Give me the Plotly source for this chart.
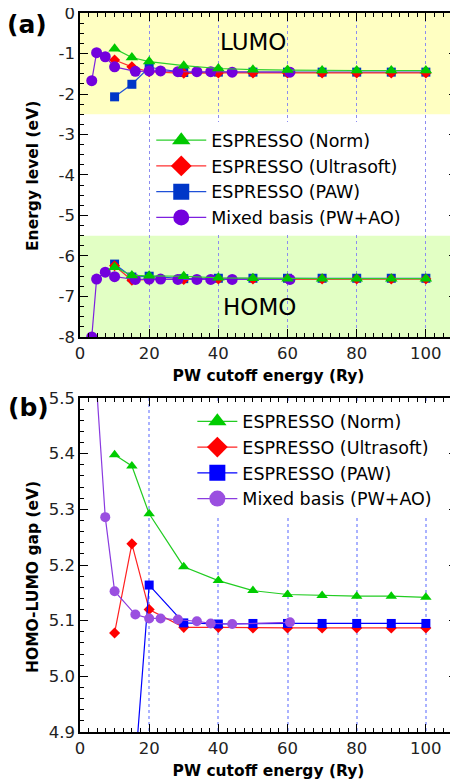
import plotly.graph_objects as go

# ---------------- data ----------------
x_esp = [10, 15, 20, 30, 40, 50, 60, 70, 80, 90, 100]
x_mix = [3.4, 4.8, 7.3, 10, 16, 20, 23.3, 28.3, 33.8, 37.8, 44, 60.7]

lumo_norm = [-0.88, -1.10, -1.20, -1.30, -1.37, -1.40, -1.41, -1.42, -1.42, -1.42, -1.42]
lumo_us = [-1.16, -1.33, -1.45, -1.49, -1.48, -1.48, -1.48, -1.48, -1.48, -1.48, -1.48]
lumo_paw = [-2.07, -1.76, -1.34, -1.47, -1.46, -1.46, -1.46, -1.46, -1.46, -1.46, -1.46]
lumo_mix = [-1.67, -0.98, -1.08, -1.33, -1.44, -1.43, -1.43, -1.45, -1.45, -1.45, -1.46, -1.46]

homo_norm = [-6.28, -6.48, -6.49, -6.50, -6.54, -6.55, -6.56, -6.56, -6.56, -6.56, -6.56]
homo_us = [-6.24, -6.60, -6.58, -6.58, -6.57, -6.57, -6.57, -6.57, -6.57, -6.57, -6.57]
homo_paw = [-6.20, -6.52, -6.50, -6.56, -6.55, -6.55, -6.55, -6.55, -6.55, -6.55, -6.55]
homo_mix = [-8.00, -6.57, -6.40, -6.51, -6.58, -6.57, -6.57, -6.58, -6.58, -6.58, -6.58, -6.58]

gap_norm = [5.398, 5.378, 5.292, 5.197, 5.172, 5.154, 5.147, 5.145, 5.144, 5.144, 5.142]
gap_us = [5.078, 5.238, 5.120, 5.088, 5.088, 5.087, 5.087, 5.087, 5.087, 5.087, 5.087]
gap_paw = [4.13, 4.76, 5.164, 5.096, 5.094, 5.095, 5.095, 5.095, 5.095, 5.095, 5.095]
gap_mix = [6.33, 5.52, 5.286, 5.153, 5.111, 5.104, 5.104, 5.102, 5.099, 5.095, 5.094, 5.097]

names = ["ESPRESSO (Norm)", "ESPRESSO (Ultrasoft)", "ESPRESSO (PAW)", "Mixed basis (PW+AO)"]

x_ticks = [0, 20, 40, 60, 80, 100]
ya_ticks = [0, -1, -2, -3, -4, -5, -6, -7, -8]
yb_ticks = [4.9, 5.0, 5.1, 5.2, 5.3, 5.4, 5.5]

FONT = "DejaVu Sans"

# styles: (symbol, size, marker color, line color)
sty_a = {
    "norm": ("triangle-up", 11, "#00c800", "#2ccf2c"),
    "us": ("diamond", 8.5, "#ff0000", "#ff3030"),
    "paw": ("square", 9, "#0036c8", "#1f50d8"),
    "mix": ("circle", 11, "#7300dd", "#7d20e0"),
}
sty_b = {
    "norm": ("triangle-up", 10, "#00cc00", "#22cc22"),
    "us": ("diamond", 8.5, "#ff0000", "#ff2020"),
    "paw": ("square", 9, "#0000ff", "#0000ff"),
    "mix": ("circle", 10, "#9a4fe0", "#8a3be0"),
}

fig = go.Figure()


def add(x, y, key, sty, xa, ya):
    sym, size, mc, lc = sty[key]
    fig.add_trace(go.Scatter(
        x=x, y=y, mode="lines+markers", showlegend=False,
        marker=dict(symbol=sym, size=size, color=mc, line=dict(width=0)),
        line=dict(color=lc, width=1.2), xaxis=xa, yaxis=ya, cliponaxis=True,
    ))


# panel (a): draw order blue, red, purple, green
for lum, hom, key, xs in [
    (lumo_paw, homo_paw, "paw", x_esp),
    (lumo_us, homo_us, "us", x_esp),
    (lumo_mix, homo_mix, "mix", x_mix),
    (lumo_norm, homo_norm, "norm", x_esp),
]:
    add(xs, lum, key, sty_a, "x", "y")
    add(xs, hom, key, sty_a, "x", "y")

# panel (b)
for g, key, xs in [
    (gap_us, "us", x_esp),
    (gap_paw, "paw", x_esp),
    (gap_mix, "mix", x_mix),
    (gap_norm, "norm", x_esp),
]:
    add(xs, g, key, sty_b, "x2", "y2")

# legend entries
keys = ["norm", "us", "paw", "mix"]
for lg, sty, xa, ya in [("legend", sty_a, "x", "y"), ("legend2", sty_b, "x2", "y2")]:
    for i, k in enumerate(keys):
        sym, size, mc, lc = sty[k]
        fig.add_trace(go.Scatter(
            x=[None], y=[None], mode="lines+markers", name=names[i],
            legend=lg, legendrank=i + 1,
            marker=dict(symbol=sym, size=16, color=mc, line=dict(width=0)),
            line=dict(color=lc, width=1.2), xaxis=xa, yaxis=ya,
        ))

axis_common = dict(
    showline=True, linecolor="black", linewidth=1.5, mirror="allticks",
    ticks="inside", tickcolor="black", tickwidth=1.2, zeroline=False,
    tickfont=dict(family=FONT, size=16.5, color="#222"), automargin=False,
    ticklabeloverflow="allow",
)

xa_common = dict(
    axis_common, range=[0, 109], tickmode="array", tickvals=x_ticks,
    ticktext=[str(v) for v in x_ticks], ticklen=8,
    showgrid=True, griddash="dot", gridwidth=1,
    minor=dict(dtick=2.5, tick0=0, ticklen=4, ticks="inside", tickcolor="black", tickwidth=1),
    title=dict(text="<b>PW cutoff energy (Ry)</b>", font=dict(family=FONT, size=15.5, color="black"), standoff=9),
)

# the page body adds an 8px offset; figure is sized so the plot lands where the reference has it
fig.update_layout(
    width=450, height=775,
    margin=dict(l=72, r=1, t=5, b=51, autoexpand=False),
    paper_bgcolor="white", plot_bgcolor="white",
    xaxis=dict(xa_common, anchor="y", domain=[0, 1], gridcolor="#8c8cf0"),
    xaxis2=dict(xa_common, anchor="y2", domain=[0, 1], gridcolor="#aab2ff", gridwidth=2),
    yaxis=dict(
        axis_common, domain=[0.5494, 1], range=[-8, 0], tickmode="array",
        tickvals=ya_ticks, ticktext=[str(v) for v in ya_ticks], ticklen=8, showgrid=False,
        minor=dict(dtick=0.25, tick0=0, ticklen=4, ticks="inside", tickcolor="black", tickwidth=1),
    ),
    yaxis2=dict(
        axis_common, domain=[0, 0.4645], range=[4.9, 5.5], tickmode="array",
        tickvals=yb_ticks, ticktext=["%.1f" % v for v in yb_ticks], ticklen=8, showgrid=False,
        minor=dict(dtick=0.02, tick0=4.9, ticklen=4, ticks="inside", tickcolor="black", tickwidth=1),
    ),
    legend=dict(
        x=0.189, y=0.848, xanchor="left", yanchor="top", bgcolor="white",
        borderwidth=0, font=dict(family=FONT, size=17.5, color="black"),
        itemwidth=50, tracegroupgap=0,
    ),
    legend2=dict(
        x=0.298, y=0.457, xanchor="left", yanchor="top", bgcolor="white",
        borderwidth=0, font=dict(family=FONT, size=17.5, color="black"),
        itemwidth=40, tracegroupgap=0,
    ),
    shapes=[
        dict(type="rect", xref="x domain", yref="y", x0=0, x1=1, y0=-2.5, y1=0,
             fillcolor="#ffffc2", line=dict(width=0), layer="below"),
        dict(type="rect", xref="x domain", yref="y", x0=0, x1=1, y0=-8, y1=-5.5,
             fillcolor="#e2ffc4", line=dict(width=0), layer="below"),
    ],
    annotations=[
        dict(text="LUMO", x=50, y=-0.72, xref="x", yref="y", showarrow=False,
             xanchor="center", yanchor="middle",
             font=dict(family=FONT, size=23, color="black")),
        dict(text="HOMO", x=52, y=-7.27, xref="x", yref="y", showarrow=False,
             xanchor="center", yanchor="middle",
             font=dict(family=FONT, size=23, color="black")),
        dict(text="<b>(a)</b>", x=-0.1406, y=1.0069, xref="paper", yref="paper", showarrow=False,
             xanchor="center", yanchor="top",
             font=dict(family=FONT, size=25, color="black")),
        dict(text="<b>(b)</b>", x=-0.1353, y=0.452, xref="paper", yref="paper", showarrow=False,
             xanchor="center", yanchor="middle",
             font=dict(family=FONT, size=25, color="black")),
        dict(text="<b>Energy level (eV)</b>", x=-0.1247, y=0.7733, xref="paper", yref="paper",
             showarrow=False, textangle=-90, xanchor="center", yanchor="middle",
             font=dict(family=FONT, size=15.5, color="black")),
        dict(text="<b>HOMO-LUMO gap (eV)</b>", x=-0.1247, y=0.2156, xref="paper", yref="paper",
             showarrow=False, textangle=-90, xanchor="center", yanchor="middle",
             font=dict(family=FONT, size=15.5, color="black")),
    ],
)

fig.write_html("out.html")
